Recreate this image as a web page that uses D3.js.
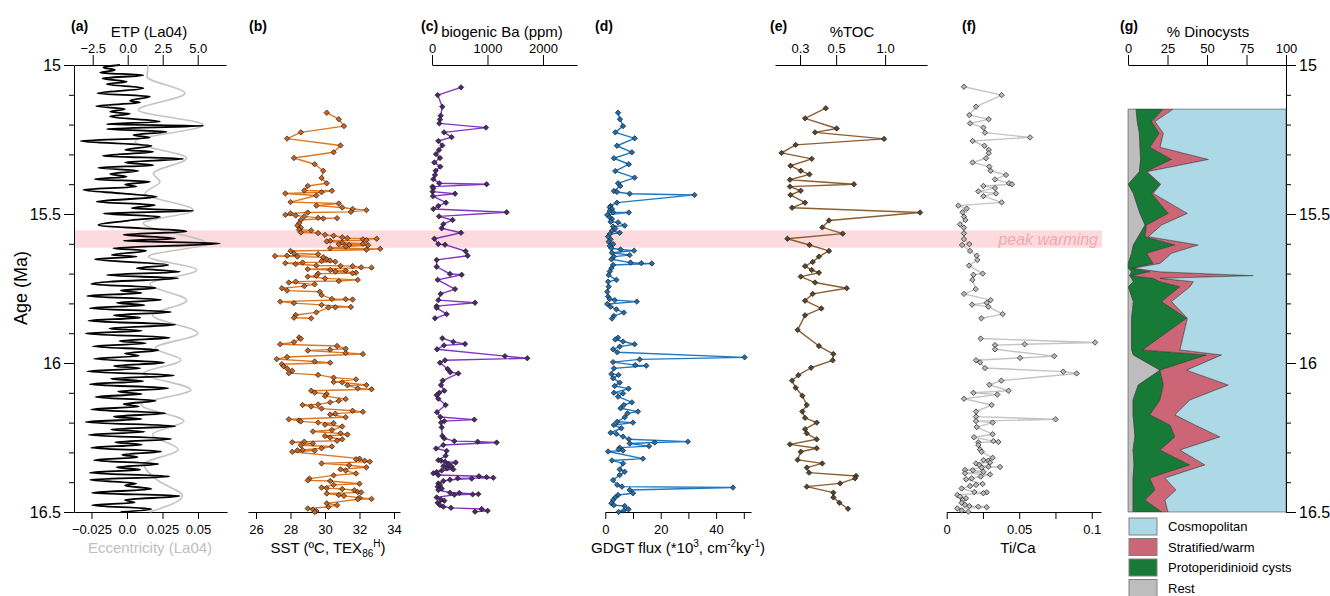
<!DOCTYPE html>
<html>
<head>
<meta charset="utf-8">
<script src="https://cdn.jsdelivr.net/npm/d3@7"></script>
<style>
  body { margin: 0; background: #fff; }
  svg text { font-family: "Liberation Sans", Arial, sans-serif; }
</style>
</head>
<body>
<svg id="chart" width="1330" height="596"></svg>
<script>
// ---- ticks / labels
var ageMajor = [15, 15.5, 16, 16.5];
var ageMinor = d3.range(15, 16.501, 0.1);
var etpTicks = [-2.5, 0, 2.5, 5], etpLabels = ["\u22122.5", "0.0", "2.5", "5.0"];
var eccTicks = [-0.025, 0, 0.025, 0.05], eccLabels = ["\u22120.025", "0.0", "0.025", "0.05"];
var sstTicks = [26, 28, 30, 32, 34];
var baTicks = [0, 1000, 2000];
var gdgtTicks = [0, 10, 20, 30, 40, 50], gdgtLabels = ["0", "", "20", "", "40", ""];
var tocTicks = [0.3, 0.5, 1.0], tocLabels = ["0.3", "0.5", "1.0"];
var ticaTicks = [0, 0.025, 0.05, 0.075, 0.1], ticaLabels = ["0", "", "0.05", "", "0.1"];
var dinoTicks = [0, 25, 50, 75, 100];
var peakWarming = [15.555, 15.613];

// ---- (a) orbital solutions (turning points)
var etpAge = [15.000,15.008,15.017,15.026,15.034,15.045,15.056,15.064,15.078,15.095,
  15.106,15.120,15.126,15.138,15.148,15.157,15.164,15.173,15.190,15.199,
  15.204,15.215,15.224,15.235,15.244,15.255,15.271,15.285,15.291,15.305,
  15.315,15.327,15.336,15.345,15.355,15.366,15.375,15.383,15.392,15.401,
  15.408,15.419,15.431,15.442,15.459,15.470,15.481,15.489,15.498,15.509,
  15.522,15.537,15.559,15.570,15.582,15.590,15.599,15.615,15.623,15.638,
  15.643,15.652,15.671,15.682,15.694,15.705,15.716,15.727,15.735,15.748,
  15.757,15.765,15.775,15.788,15.798,15.806,15.816,15.829,15.840,15.848,
  15.858,15.872,15.884,15.892,15.901,15.915,15.926,15.934,15.944,15.957,
  15.968,15.976,15.986,15.999,16.010,16.018,16.028,16.042,16.053,16.061,
  16.071,16.085,16.096,16.104,16.114,16.127,16.138,16.146,16.156,16.169,
  16.180,16.188,16.198,16.212,16.223,16.231,16.241,16.255,16.266,16.274,
  16.284,16.297,16.308,16.316,16.326,16.339,16.350,16.358,16.368,16.381,
  16.392,16.404,16.411,16.423,16.436,16.446,16.460,16.468,16.477,16.490,
  16.500];
var etpVal = [-0.55,-1.74,-0.91,-1.98,1.12,-1.79,-0.07,-1.50,1.12,-2.17,
  1.59,0.16,0.88,-2.26,-0.19,-1.26,0.16,-1.26,2.31,-1.50,
  5.40,-1.50,2.78,0.40,1.59,-3.36,1.71,-0.19,1.83,-1.79,
  3.97,-0.19,1.83,-2.10,0.76,-1.26,-0.07,-2.34,1.59,-0.19,
  0.64,-3.17,-0.43,2.07,-2.22,1.95,0.28,4.69,-1.74,2.31,
  0.05,-2.10,4.21,-0.31,3.38,-0.31,6.59,-1.03,1.31,-1.15,
  0.64,-2.34,2.90,0.64,3.74,-1.50,3.62,-1.2,-2.6,2.0,
  -0.5,1.0,-2.9,2.4,-0.8,1.2,-2.7,3.1,-1.0,0.9,
  -2.8,3.4,-1.3,1.0,-3.0,3.0,-0.6,1.3,-2.5,2.2,
  -0.2,0.8,-2.4,2.6,-1.0,0.9,-2.9,3.3,-1.2,1.1,
  -2.7,2.9,-0.7,1.0,-2.3,2.0,-0.3,0.8,-2.6,2.7,
  -1.0,1.0,-3.0,3.4,-1.2,1.2,-2.8,3.1,-0.9,1.0,
  -2.6,2.4,-0.4,0.7,-2.4,2.2,-0.8,0.9,-2.7,3.0,
  -2.7,0.6,-0.2,1.7,-2.55,3.7,-0.2,0.5,-2.55,1.7,
  -0.5];
var eccAge = [15.000,15.039,15.095,15.151,15.201,15.257,15.313,15.364,15.392,15.431,
  15.487,15.531,15.599,15.643,15.688,15.735,15.790,15.840,15.900,15.950,
  15.990,16.035,16.090,16.140,16.195,16.240,16.290,16.340,16.395,16.446,
  16.500];
var eccVal = [0.0150,0.0141,0.0408,0.0080,0.0537,0.0056,0.0420,0.0186,0.0232,0.0127,
  0.0467,0.0115,0.0561,0.0150,0.0491,0.0160,0.0420,0.0180,0.0500,0.0200,
  0.0380,0.0120,0.0450,0.0100,0.0400,0.0180,0.0360,0.0120,0.0220,0.0390,
  0.0160];

// ---- (b) SST
var sstAge = [15.160,15.182,15.205,15.226,15.247,15.270,15.293,15.312,15.333,15.355,
  15.379,15.397,15.406,15.421,15.422,15.427,15.431,15.438,15.460,15.465,
  15.472,15.478,15.483,15.487,15.493,15.495,15.498,15.503,15.505,15.508,
  15.513,15.514,15.515,15.520,15.531,15.539,15.546,15.553,15.555,15.562,
  15.564,15.570,15.573,15.578,15.581,15.583,15.585,15.588,15.590,15.592,
  15.596,15.600,15.601,15.604,15.605,15.609,15.615,15.617,15.620,15.624,
  15.632,15.635,15.640,15.641,15.643,15.645,15.652,15.656,15.658,15.660,
  15.663,15.665,15.668,15.673,15.674,15.675,15.679,15.680,15.685,15.688,
  15.690,15.693,15.697,15.699,15.700,15.707,15.710,15.716,15.721,15.725,
  15.727,15.730,15.736,15.742,15.749,15.757,15.761,15.772,15.785,15.786,
  15.787,15.794,15.799,15.805,15.812,15.813,15.814,15.830,15.839,15.848,
  15.850,null,
  15.914,15.919,15.930,15.937,15.943,15.952,15.955,15.958,15.966,15.970,
  15.980,15.987,15.995,15.999,16.004,16.011,16.018,16.026,16.034,16.040,
  16.049,16.055,16.064,16.065,16.074,16.075,16.085,16.088,16.093,16.099,
  16.104,16.111,16.121,16.127,16.132,16.139,16.141,16.146,16.153,16.160,
  16.164,16.170,16.173,16.182,16.189,16.193,16.196,16.200,16.202,16.207,
  16.213,16.225,16.230,16.236,16.240,16.245,16.250,16.256,16.261,16.264,
  16.266,16.270,16.276,16.280,16.286,16.292,16.293,16.294,16.298,16.321,
  16.323,16.328,16.331,16.337,16.343,16.350,16.357,16.361,16.371,16.377,
  16.388,16.394,16.396,16.405,16.409,16.418,16.420,16.423,16.427,16.433,
  16.434,16.438,16.443,16.446,16.452,16.456,16.457,16.471,16.477,16.483,
  16.488,16.492,16.497,16.500];
var sstVal = [30.1,30.8,31.1,28.6,27.8,30.9,30.5,28.2,29.4,29.9,
  29.8,30.1,29.0,28.8,30.4,29.8,27.7,29.5,28.0,30.8,
  29.5,31.0,31.6,32.4,31.5,29.0,28.0,27.7,28.3,28.8,
  29.6,30.7,29.9,28.6,28.5,28.4,28.6,28.5,29.2,28.6,
  29.6,30.0,30.5,31.0,31.3,33.0,32.2,32.4,30.3,30.1,
  31.0,32.2,30.8,31.4,32.5,31.2,30.3,33.2,32.4,28.0,
  28.2,29.6,27.8,27.1,28.4,29.9,30.1,30.3,29.8,30.6,
  28.7,27.7,28.3,29.5,30.9,31.6,32.1,32.7,29.0,30.3,
  31.2,30.6,31.8,31.6,29.6,29.5,29.0,30.0,31.9,30.8,
  28.3,27.9,29.4,28.8,27.5,27.8,29.7,29.8,30.4,31.2,
  31.6,27.4,28.2,29.8,31.5,30.6,30.2,29.5,28.3,28.2,
  29.2,null,
  28.5,28.6,28.2,27.4,30.7,31.2,30.3,29.0,31.2,32.2,
  27.8,27.2,29.4,30.3,27.5,27.6,27.8,28.1,27.9,29.6,
  30.5,31.8,30.5,31.0,32.4,31.3,31.9,32.7,29.2,29.4,
  30.1,30.0,31.2,30.8,30.3,29.6,28.7,29.2,29.8,31.6,
  32.2,30.6,30.3,31.2,27.9,28.5,28.6,29.6,30.5,30.0,
  31.0,30.4,29.3,30.9,31.3,30.0,30.3,31.0,30.7,28.8,
  28.1,29.3,28.6,30.4,29.8,28.7,28.4,29.4,28.1,32.0,
  31.8,32.3,32.6,29.8,31.4,32.4,30.9,31.2,31.8,30.5,
  29.1,29.0,30.3,32.0,30.5,29.8,30.1,31.0,31.7,31.9,
  32.1,30.1,30.8,31.1,32.0,32.7,31.9,30.1,30.7,30.2,
  29.0,29.3,29.5,29.4];

// ---- (c) biogenic Ba
var baAge = [15.075,15.101,15.140,15.170,15.183,15.196,15.210,15.226,15.242,15.255,
  15.270,15.285,15.299,15.312,15.327,15.341,15.355,15.369,15.383,15.397,
  15.400,15.408,15.414,15.425,15.432,15.440,15.462,15.473,15.483,15.494,
  15.508,15.520,15.534,15.548,15.563,15.583,15.601,15.603,15.625,15.640,
  15.654,15.677,15.701,15.704,15.721,15.752,15.768,15.789,15.798,15.809,
  15.815,15.836,15.850,null,
  15.917,15.929,15.936,15.941,15.954,15.977,15.984,15.991,15.999,16.020,
  16.031,16.035,16.059,16.074,16.093,16.100,16.108,16.120,16.141,16.165,
  16.181,16.190,16.195,16.200,16.216,16.245,16.253,16.262,16.264,16.267,
  16.275,16.287,16.295,16.311,16.326,16.328,16.331,16.334,16.339,16.346,
  16.348,16.354,16.357,16.361,16.366,16.370,16.376,16.380,16.383,16.385,
  16.387,16.388,16.392,16.396,16.404,16.409,16.415,16.421,16.426,16.435,
  16.436,16.440,16.441,16.442,16.451,16.458,16.462,16.469,16.477,16.482,
  16.486,16.490,16.496,16.499];
var baVal = [523,102,186,156,144,132,973,216,354,114,
  186,126,72,144,42,150,66,54,24,132,
  985,10,24,10,415,16,252,114,24,1345,
  126,372,204,174,523,42,114,234,607,643,
  84,84,324,535,102,415,156,114,775,84,
  84,264,54,null,
  186,384,595,216,90,1315,1718,234,144,282,
  330,475,192,162,222,132,84,114,246,90,
  150,763,222,162,174,186,222,402,823,1165,
  204,72,264,246,114,162,234,427,294,204,
  354,264,384,174,84,24,114,847,985,1105,
  463,715,324,204,114,144,102,174,114,324,
  493,835,733,402,84,162,222,102,144,204,
  342,895,1003,775];

// ---- (d) GDGT flux
var gdgtAge = [15.160,15.182,15.205,15.226,15.246,15.271,15.293,15.313,15.333,15.356,
  15.378,15.397,15.406,15.423,15.426,15.432,15.436,15.462,15.473,15.478,
  15.483,15.490,15.494,15.495,15.503,15.511,15.517,15.526,15.528,15.539,
  15.542,15.549,15.556,15.563,15.567,15.576,15.585,15.593,15.601,15.607,
  15.615,15.619,15.623,15.630,15.638,15.643,15.652,15.663,15.665,15.666,
  15.671,15.682,15.693,15.705,15.721,15.727,15.744,15.761,15.777,15.785,
  15.789,15.794,15.802,15.811,15.820,15.831,15.842,15.851,null,
  15.915,15.921,15.928,15.937,15.945,15.954,15.964,15.981,15.988,15.997,
  16.007,16.009,16.018,16.037,16.040,16.051,16.066,16.077,16.086,16.100,
  16.102,16.113,16.132,16.141,16.152,16.163,16.169,16.182,16.197,16.200,
  16.208,16.219,16.234,16.238,16.247,16.256,16.264,16.267,16.270,16.279,
  16.284,16.290,16.294,16.297,16.321,16.327,16.337,16.357,16.365,16.376,
  16.393,16.409,16.415,16.418,16.426,16.437,16.443,16.451,16.460,16.471,
  16.477,16.480,16.491,16.495,16.500];
var gdgtVal = [4.6,5.3,6.4,3.6,10.6,4.2,9.6,3.1,8.5,3.6,
  10.6,4.6,5.4,3.1,4.2,8.8,32.2,4.2,1.9,1.6,
  2.4,1.6,2.8,8.5,0.7,1.6,2.4,1.9,4.6,7.0,
  2.8,3.6,2.4,5.2,1.6,1.0,1.9,1.2,2.8,1.6,
  2.2,5.5,10.4,2.4,8.8,3.1,2.2,9.1,13.0,16.8,
  2.8,2.2,1.6,1.2,4.0,1.0,1.2,0.7,1.0,1.6,
  3.4,11.4,0.7,1.9,4.0,6.7,3.1,2.4,null,
  4.6,3.6,6.4,10.6,5.2,2.8,4.3,50.3,12.4,2.8,
  10.8,14.8,3.1,2.2,4.8,2.8,5.2,3.4,8.4,3.1,
  6.4,4.6,9.6,6.7,5.5,11.8,8.0,7.0,4.3,10.0,
  3.1,5.8,1.9,4.0,6.4,8.5,29.8,17.8,8.8,15.8,
  5.2,4.8,6.4,1.0,13.6,2.4,6.4,5.2,7.0,5.2,
  2.8,4.3,6.0,46.1,8.8,10.0,4.6,3.6,2.8,2.2,
  3.1,7.0,8.4,6.7,4.8];

// ---- (e) %TOC
var tocAge = [15.145,15.179,15.213,15.226,15.248,15.268,15.295,15.315,15.338,15.355,
  15.367,15.385,15.400,15.408,15.422,15.436,15.462,15.479,15.495,15.522,
  15.545,15.566,15.583,15.604,15.624,15.643,15.661,15.675,15.688,15.697,
  15.710,15.730,15.749,15.768,15.791,15.817,15.840,15.889,15.943,15.970,
  15.991,16.016,16.041,16.059,16.083,16.110,16.141,16.163,16.184,16.200,
  16.222,16.236,16.256,16.273,16.286,16.298,16.325,16.337,16.351,16.368,
  16.379,16.387,16.404,16.415,16.435,16.451,16.469,16.489];
var tocVal = [0.432,0.322,0.504,0.371,0.986,0.282,0.231,0.354,0.262,0.303,
  0.343,0.260,0.644,0.260,0.303,0.262,0.322,0.268,1.641,0.452,
  0.411,0.549,0.251,0.343,0.452,0.392,0.359,0.322,0.354,0.392,
  0.303,0.371,0.581,0.359,0.322,0.406,0.322,0.290,0.392,0.481,
  0.476,0.351,0.293,0.268,0.282,0.310,0.330,0.310,0.322,0.380,
  0.322,0.330,0.380,0.260,0.380,0.303,0.290,0.411,0.330,0.341,
  0.663,0.654,0.529,0.330,0.481,0.481,0.524,0.592];

// ---- (f) Ti/Ca
var ticaAge = [15.073,15.101,15.140,15.168,15.182,15.196,15.210,15.227,15.243,15.255,
  15.271,15.285,15.296,15.313,15.327,15.341,15.355,15.369,15.384,15.397,
  15.400,15.406,15.413,15.424,15.431,15.440,15.461,15.472,15.482,15.494,
  15.509,15.520,15.535,15.546,15.565,15.584,15.601,15.604,15.624,15.640,
  15.654,15.673,15.700,15.704,15.721,15.752,15.768,15.789,15.798,15.804,
  15.811,15.836,15.850,null,
  15.918,15.931,15.937,15.940,15.954,15.977,15.983,15.991,15.998,16.017,
  16.029,16.035,16.059,16.073,16.093,16.100,16.106,16.120,16.141,16.163,
  16.180,16.189,16.195,16.200,16.215,16.239,16.249,16.262,16.265,16.266,
  16.275,16.290,16.298,16.318,16.326,16.328,16.334,16.337,16.342,16.348,
  16.349,16.351,16.359,16.360,16.365,16.370,16.374,16.381,16.387,16.390,
  16.406,16.409,16.413,16.421,16.433,16.434,16.437,16.443,16.448,16.454,
  16.460,16.469,16.476,16.480,16.482,16.484,16.488,16.495,16.499];
var ticaVal = [0.0119,0.0379,0.0202,0.0156,0.0290,0.0161,0.0253,0.0264,0.0575,0.0179,
  0.0260,0.0290,0.0290,0.0271,0.0179,0.0294,0.0303,0.0409,0.0333,0.0430,
  0.0450,0.0253,0.0333,0.0218,0.0340,0.0253,0.0379,0.0080,0.0138,0.0110,
  0.0119,0.0129,0.0092,0.0119,0.0119,0.0119,0.0156,0.0106,0.0161,0.0207,
  0.0211,0.0154,0.0248,0.0184,0.0177,0.0200,0.0119,0.0303,0.0276,0.0175,
  0.0287,0.0386,0.0239,null,
  0.0234,0.1023,0.0538,0.0333,0.0333,0.0742,0.0506,0.0202,0.0230,0.0264,
  0.0804,0.0896,0.0377,0.0294,0.0427,0.0184,0.0349,0.0119,0.0310,0.0202,
  0.0202,0.0751,0.0202,0.0317,0.0207,0.0317,0.0188,0.0322,0.0356,0.0218,
  0.0218,0.0230,0.0241,0.0317,0.0253,0.0287,0.0299,0.0202,0.0225,0.0287,
  0.0368,0.0241,0.0126,0.0180,0.0253,0.0126,0.0299,0.0234,0.0172,0.0133,
  0.0248,0.0202,0.0161,0.0103,0.0190,0.0276,0.0253,0.0073,0.0092,0.0133,
  0.0110,0.0103,0.0126,0.0156,0.0218,0.0276,0.0073,0.0103,0.0149];

// ---- (g) dinocyst groups (%)
var dinoAge = [15.148,15.190,15.229,15.276,15.317,15.358,15.400,15.431,15.498,15.537,
  15.576,15.604,15.632,15.666,15.682,15.694,15.707,15.716,15.727,15.744,
  15.794,15.850,15.956,15.973,16.024,16.074,16.124,16.174,16.208,16.248,
  16.292,16.342,16.386,16.426,16.460,16.500];
var dinoRest = [5.1,5.9,7.2,7.6,8.0,7.2,0.2,3.4,7.6,10.8,
  6.5,3.4,2.3,0.2,0.2,2.3,1.0,2.3,3.4,0.2,
  3.4,2.3,2.3,3.4,20.3,6.5,3.2,3.2,3.8,4.4,
  3.2,3.8,3.2,3.2,3.2,3.2];
var dinoProto = [17.3,9.1,12.6,6.3,19.6,4.2,20.1,11.6,17.9,1.0,
  4.3,26.4,9.5,15.8,2.1,11.6,1.3,13.7,16.9,32.7,
  17.9,34.8,7.0,46.4,0.0,15.9,17.1,10.7,22.8,25.3,
  17.1,35.4,10.7,13.9,7.6,18.3];
var dinoStrat = [6.3,2.1,2.6,6.4,23.3,0.8,0.4,1.0,12.1,9.5,
  2.1,14.7,15.8,4.3,1.1,6.4,77.0,4.3,21.1,6.4,
  6.3,0.5,23.6,9.5,16.8,41.1,18.9,15.8,15.8,28.5,
  12.6,9.5,9.5,13.3,12.6,3.8];
var dinoGroups = ["Cosmopolitan", "Stratified/warm", "Protoperidinioid cysts", "Rest"];
var dinoColors = ["#add8e6", "#cc6677", "#177a36", "#bdbdbd"];

// ---------------------------------------------------------------
var svg = d3.select("#chart");
var y = d3.scaleLinear().domain([15, 16.5]).range([65, 512]);

var xEtp = d3.scaleLinear().domain([-3.836, 7.02]).range([74, 226]);
var xEcc = d3.scaleLinear().domain([-0.0373, 0.0704]).range([74, 227]);
var xSst = d3.scaleLinear().domain([25.536, 34.348]).range([248, 400]);
var xBa = d3.scaleLinear().domain([0, 2613]).range([432, 577]);
var xGdgt = d3.scaleLinear().domain([0, 52.6]).range([605.3, 751]);
var xToc = d3.scaleLog().domain([0.2105, 1.81]).range([775, 927]);
var xTica = d3.scaleLinear().domain([0, 0.1064]).range([946.7, 1101]);
var xDino = d3.scaleLinear().domain([0, 100]).range([1128, 1286]);

// peak warming band
svg.append("rect")
  .attr("x", 74).attr("width", 1102 - 74)
  .attr("y", y(peakWarming[0])).attr("height", y(peakWarming[1]) - y(peakWarming[0]))
  .attr("fill", "#fcdadd");
svg.append("text")
  .attr("x", 1098).attr("y", y((peakWarming[0] + peakWarming[1]) / 2) + 5.5)
  .attr("text-anchor", "end")
  .style("font-size", "16px").style("font-style", "italic")
  .attr("fill", "#f2a9b1")
  .text("peak warming");

// axes helper
function axis(gen, tr, vals, labels, size, pad) {
  var a = gen.tickValues(vals).tickSize(size).tickSizeOuter(0).tickPadding(pad);
  a.tickFormat(function(d, i) { return labels ? labels[i] : d; });
  var g = svg.append("g").attr("transform", tr).call(a);
  g.attr("font-family", null).attr("font-size", null);
  g.selectAll("text").style("font-size", "13px").attr("fill", "#000");
  g.selectAll("line").attr("stroke", "#000");
  g.select(".domain").attr("stroke", "#000");
  return g;
}

axis(d3.axisTop(xEtp), "translate(0,65)", etpTicks, etpLabels, 10, 2);
axis(d3.axisBottom(xEcc), "translate(0,512)", eccTicks, eccLabels, 7, 6);
axis(d3.axisBottom(xSst), "translate(0,512)", sstTicks, null, 7, 6);
axis(d3.axisTop(xBa), "translate(0,65)", baTicks, null, 10, 2);
axis(d3.axisBottom(xGdgt), "translate(0,512)", gdgtTicks, gdgtLabels, 7, 6);
axis(d3.axisTop(xToc), "translate(0,65)", tocTicks, tocLabels, 10, 2);
axis(d3.axisBottom(xTica), "translate(0,512)", ticaTicks, ticaLabels, 7, 6);
axis(d3.axisTop(xDino), "translate(0,65)", dinoTicks, null, 10, 2);

// age axes (left of panel a, right of panel g)
function ageAxis(gen, x) {
  var minor = svg.append("g").attr("transform", "translate(" + x + ",0)")
    .call(gen(y).tickValues(ageMinor).tickSize(5).tickSizeOuter(0).tickFormat(""));
  minor.selectAll("line").attr("stroke", "#000");
  minor.select(".domain").attr("stroke", "#000");
  var major = svg.append("g").attr("transform", "translate(" + x + ",0)")
    .call(gen(y).tickValues(ageMajor).tickSize(10).tickSizeOuter(0).tickPadding(3)
      .tickFormat(function(d) { return d; }));
  major.attr("font-family", null).attr("font-size", null);
  major.select(".domain").remove();
  major.selectAll("line").attr("stroke", "#000");
  major.selectAll("text").style("font-size", "16px").attr("fill", "#000");
}
ageAxis(d3.axisLeft, 74);
ageAxis(d3.axisRight, 1286);

svg.append("text")
  .attr("transform", "translate(27,288) rotate(-90)")
  .attr("text-anchor", "middle")
  .style("font-size", "18px")
  .text("Age (Ma)");

// panel (a) curves
function curveSeries(ages, vals, xs, color, w) {
  var pts = ages.map(function(a, i) { return { a: a, v: vals[i] }; });
  svg.append("path").datum(pts)
    .attr("d", d3.line().curve(d3.curveMonotoneY)
      .x(function(d) { return xs(d.v); })
      .y(function(d) { return y(d.a); }))
    .attr("fill", "none").attr("stroke", color).attr("stroke-width", w);
}
curveSeries(eccAge, eccVal, xEcc, "#c4c4c4", 1.6);
curveSeries(etpAge, etpVal, xEtp, "#000", 1.8);

// proxy series with diamonds
var diamond = "M0,-2.7L2.7,0L0,2.7L-2.7,0Z";
function proxy(ages, vals, xs, color, mfill) {
  var pts = ages.map(function(a, i) { return { a: a, v: vals[i] }; });
  var ok = function(d) { return d.v !== null && d.a !== null; };
  svg.append("path").datum(pts)
    .attr("d", d3.line().defined(ok)
      .x(function(d) { return xs(d.v); })
      .y(function(d) { return y(d.a); }))
    .attr("fill", "none").attr("stroke", color).attr("stroke-width", 1.4)
    .attr("stroke-linejoin", "round");
  svg.append("g").selectAll("path")
    .data(pts.filter(ok)).enter().append("path")
    .attr("d", diamond)
    .attr("transform", function(d) { return "translate(" + xs(d.v) + "," + y(d.a) + ")"; })
    .attr("fill", mfill).attr("stroke", "#1a1a1a").attr("stroke-width", 0.7);
}
proxy(sstAge, sstVal, xSst, "#dd7722", "#c8641e");
proxy(baAge, baVal, xBa, "#8034c4", "#4a2a6a");
proxy(gdgtAge, gdgtVal, xGdgt, "#1f78c1", "#1f6fb0");
proxy(tocAge, tocVal, xToc, "#8c5f2e", "#5a4630");
proxy(ticaAge, ticaVal, xTica, "#c4c4c4", "#b8b8b8");

// panel (g) stacked areas
var dinoRows = dinoAge.map(function(a, i) {
  return { age: a, rest: dinoRest[i], proto: dinoProto[i], strat: dinoStrat[i],
    cosmo: 100 - dinoRest[i] - dinoProto[i] - dinoStrat[i] };
});
var stack = d3.stack().keys(["rest", "proto", "strat", "cosmo"])(dinoRows);
var area = d3.area()
  .y(function(d) { return y(d.data.age); })
  .x0(function(d) { return xDino(d[0]); })
  .x1(function(d) { return xDino(d[1]); });
var fillFor = { rest: dinoColors[3], proto: dinoColors[2], strat: dinoColors[1], cosmo: dinoColors[0] };
svg.append("g").selectAll("path").data(stack).enter().append("path")
  .attr("d", area)
  .attr("fill", function(d) { return fillFor[d.key]; })
  .attr("stroke", "#333").attr("stroke-width", 0.5);

// legend
var leg = svg.append("g").attr("transform", "translate(1129,518)");
dinoGroups.forEach(function(name, i) {
  leg.append("rect").attr("x", 0).attr("y", i * 20.5).attr("width", 28).attr("height", 17)
    .attr("fill", dinoColors[i]).attr("stroke", "#808080").attr("stroke-width", 1);
  leg.append("text").attr("x", 39).attr("y", i * 20.5 + 13)
    .style("font-size", "13px").text(name);
});

// titles and panel letters
function label(x, yy, txt, anchor, size, weight, color) {
  return svg.append("text").attr("x", x).attr("y", yy)
    .attr("text-anchor", anchor || "start")
    .style("font-size", (size || 15) + "px")
    .style("font-weight", weight || "normal")
    .attr("fill", color || "#000")
    .text(txt);
}
label(71, 31, "(a)", "start", 14, "bold");
label(249, 31, "(b)", "start", 14, "bold");
label(421, 31, "(c)", "start", 14, "bold");
label(595, 31, "(d)", "start", 14, "bold");
label(770, 31, "(e)", "start", 14, "bold");
label(962, 31, "(f)", "start", 14, "bold");
label(1120, 31, "(g)", "start", 14, "bold");

label(149, 37, "ETP (La04)", "middle");
label(502, 37, "biogenic Ba (ppm)", "middle");
label(852, 37, "%TOC", "middle");
label(1208, 37, "% Dinocysts", "middle");

label(150, 553, "Eccentricity (La04)", "middle", 15, "normal", "#c0c0c0");
label(1018, 553, "Ti/Ca", "middle");

var sst = label(328, 553, "SST (\u00baC, TEX", "middle");
sst.append("tspan").attr("dy", 4).style("font-size", "10px").text("86");
sst.append("tspan").attr("dy", -10).style("font-size", "10px").text("H");
sst.append("tspan").attr("dy", 6).text(")");

var gd = label(678, 553, "GDGT flux (*10", "middle");
gd.append("tspan").attr("dy", -6).style("font-size", "10px").text("3");
gd.append("tspan").attr("dy", 6).text(", cm");
gd.append("tspan").attr("dy", -6).style("font-size", "10px").text("-2");
gd.append("tspan").attr("dy", 6).text("ky");
gd.append("tspan").attr("dy", -6).style("font-size", "10px").text("-1");
gd.append("tspan").attr("dy", 6).text(")");
</script>
</body>
</html>
